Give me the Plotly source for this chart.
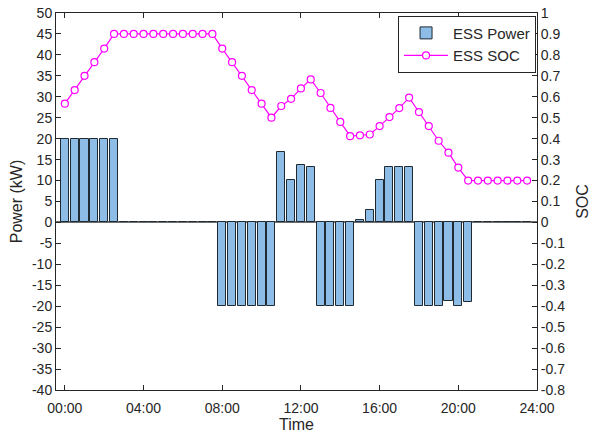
import plotly.graph_objects as go

# Time of each half-hour step (hours)
time_h = [0.0, 0.5, 1.0, 1.5, 2.0, 2.5, 3.0, 3.5, 4.0, 4.5, 5.0, 5.5,
          6.0, 6.5, 7.0, 7.5, 8.0, 8.5, 9.0, 9.5, 10.0, 10.5, 11.0, 11.5,
          12.0, 12.5, 13.0, 13.5, 14.0, 14.5, 15.0, 15.5, 16.0, 16.5, 17.0, 17.5,
          18.0, 18.5, 19.0, 19.5, 20.0, 20.5, 21.0, 21.5, 22.0, 22.5, 23.0, 23.5]

ess_power = [20, 20, 20, 20, 20, 20, 0, 0, 0, 0, 0, 0,
             0, 0, 0, 0, -20, -20, -20, -20, -20, -20, 16.8, 10.1,
             13.7, 13.3, -20, -20, -20, -20, 0.6, 3.0, 10.1, 13.3, 13.3, 13.3,
             -20, -20, -20, -18.7, -20, -19.1, 0, 0, 0, 0, 0, 0]

ess_soc = [0.567, 0.632, 0.700, 0.765, 0.830, 0.900, 0.900, 0.900, 0.900, 0.900, 0.900, 0.900,
           0.900, 0.900, 0.900, 0.900, 0.830, 0.765, 0.700, 0.632, 0.567, 0.500, 0.556, 0.590,
           0.640, 0.683, 0.618, 0.547, 0.480, 0.412, 0.416, 0.420, 0.460, 0.503, 0.546, 0.596,
           0.527, 0.460, 0.390, 0.333, 0.262, 0.200, 0.200, 0.200, 0.200, 0.200, 0.200, 0.200]

x_tick_vals = [0, 4, 8, 12, 16, 20, 24]
x_tick_text = ["00:00", "04:00", "08:00", "12:00", "16:00", "20:00", "24:00"]

power_tick_vals = [50, 45, 40, 35, 30, 25, 20, 15, 10, 5, 0, -5, -10, -15, -20, -25, -30, -35, -40]
power_tick_text = ["50", "45", "40", "35", "30", "25", "20", "15", "10", "5", "0",
                   "-5", "-10", "-15", "-20", "-25", "-30", "-35", "-40"]

soc_tick_vals = [1.0, 0.9, 0.8, 0.7, 0.6, 0.5, 0.4, 0.3, 0.2, 0.1, 0.0,
                 -0.1, -0.2, -0.3, -0.4, -0.5, -0.6, -0.7, -0.8]
soc_tick_text = ["1", "0.9", "0.8", "0.7", "0.6", "0.5", "0.4", "0.3", "0.2", "0.1", "0",
                 "-0.1", "-0.2", "-0.3", "-0.4", "-0.5", "-0.6", "-0.7", "-0.8"]

FONT = "Liberation Sans, Arial, Helvetica, sans-serif"
TXT = "#262626"

fig = go.Figure()
fig.add_trace(go.Bar(
    x=time_h, y=ess_power, name="ESS Power", width=0.41,
    marker=dict(color="#8DBDE6", line=dict(color="#1f2a33", width=1)),
    yaxis="y",
))
fig.add_trace(go.Scatter(
    x=time_h, y=ess_soc, name="ESS SOC", mode="lines+markers",
    line=dict(color="#FF00FF", width=1.2),
    marker=dict(symbol="circle", size=7, color="white",
                line=dict(color="#FF00FF", width=1.2)),
    yaxis="y2",
))

axis_common = dict(showgrid=False, ticks="inside", ticklen=5, tickwidth=1,
                   tickcolor=TXT, showline=True, linecolor=TXT, linewidth=1,
                   automargin=False,
                   tickfont=dict(family=FONT, size=14, color=TXT))

fig.update_layout(
    width=594, height=439,
    margin=dict(l=56, r=57, t=13, b=49),
    paper_bgcolor="white", plot_bgcolor="white",
    font=dict(family=FONT, color=TXT),
    bargap=0,
    showlegend=True,
    legend=dict(x=0.998, y=0.993, xanchor="right", yanchor="top",
                bgcolor="white", bordercolor=TXT, borderwidth=1,
                font=dict(family=FONT, size=15, color=TXT),
                tracegroupgap=0, itemwidth=44),
    xaxis=dict(range=[-0.45, 24], tickvals=x_tick_vals, ticktext=x_tick_text,
               mirror="ticks", zeroline=False, ticklabelstandoff=5,
               title=dict(text="Time", font=dict(family=FONT, size=16, color=TXT), standoff=4),
               **axis_common),
    yaxis=dict(range=[-40, 50], tickvals=power_tick_vals, ticktext=power_tick_text,
               zeroline=True, zerolinecolor="#6e6e6e", zerolinewidth=1.6,
               title=dict(text="Power (kW)", font=dict(family=FONT, size=16, color=TXT), standoff=5),
               **axis_common),
    yaxis2=dict(range=[-0.8, 1.0], tickvals=soc_tick_vals, ticktext=soc_tick_text,
                overlaying="y", side="right", zeroline=False,
                title=dict(text="SOC", font=dict(family=FONT, size=16, color=TXT), standoff=12),
                **axis_common),
)

fig.write_html("out.html", config={"displayModeBar": False},
               post_script="document.body.style.margin='0';document.body.style.padding='0';")
